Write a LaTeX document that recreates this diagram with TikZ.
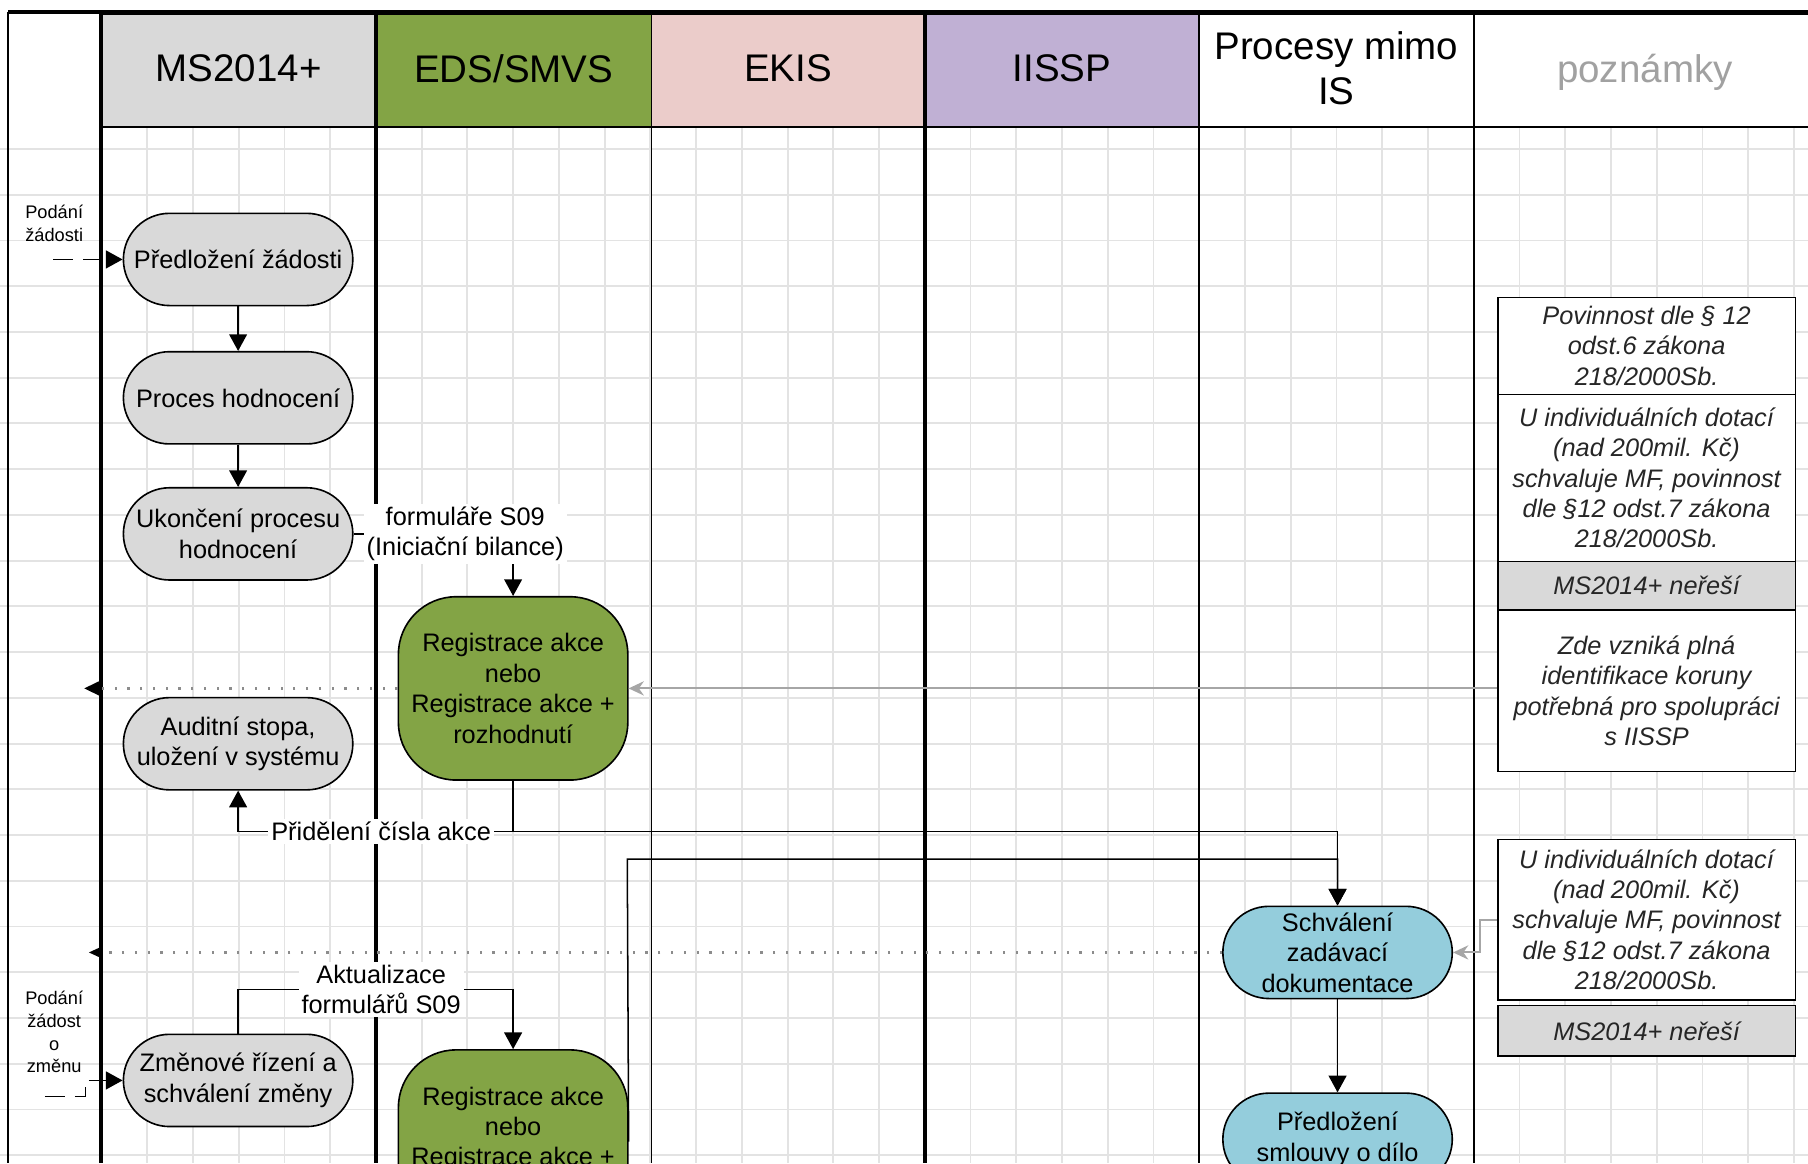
\documentclass[tikz,border=0pt]{standalone}
\usepackage{fontspec}
\setmainfont{Liberation Sans}
\usepackage{xcolor}
\usepackage{tikz}
\usetikzlibrary{arrows.meta}

\definecolor{sedaC}{HTML}{D9D9D9}
\definecolor{zelenaC}{HTML}{83A445}
\definecolor{ruzovaC}{HTML}{EBCCCA}
\definecolor{fialovaC}{HTML}{C0B0D4}
\definecolor{modraC}{HTML}{94CDDC}
\definecolor{mrizka}{HTML}{E3E3E3}
\definecolor{sedaS}{HTML}{A6A6A6}

\begin{document}
\begin{tikzpicture}[x=0.02cm,y=-0.02cm,
        mriz/.style={draw=mrizka,line width=0.9pt},
        hlava/.style={draw,line width=0.7pt,minimum width=4.76cm,minimum height=1.96cm,inner sep=0pt,text depth=0.2em,align=center,font=\fontsize{19}{22}\selectfont},
        proces/.style={draw,line width=0.8pt,fill=sedaC,rounded corners=0.8cm,minimum width=3.98cm,minimum height=1.6cm,inner sep=0pt,align=center,font=\fontsize{12.5}{15}\selectfont},
        registrace/.style={proces,fill=zelenaC,rounded corners=1cm,minimum height=3.18cm},
        mimo/.style={proces,fill=modraC},
        pozn/.style={draw,line width=0.8pt,fill=white,minimum width=5.16cm,inner sep=0pt,align=center,text=black!85,font=\fontsize{12.5}{15}\selectfont\itshape},
        stitek/.style={fill=white,inner sep=1.5pt,align=center,font=\fontsize{12.5}{15}\selectfont},
        maly/.style={align=center,inner sep=0pt,font=\fontsize{9}{11.3}\selectfont},
        tok/.style={line width=0.75pt,-{Triangle[width=8.8pt,length=8.2pt]}},
        vstup/.style={tok,dash pattern=on 9.7pt off 5.1pt},
        sipka/.style={draw=sedaS,line width=1pt,-{Stealth[width=7pt,length=7.5pt]}},
        tecky/.style={draw=black!45,line width=1.1pt,dash pattern=on 1.1pt off 5.2pt}
    ]
                \useasboundingbox (0,0) rectangle (1568,1009);
                \clip (0,0) rectangle (1568,1009);
                \fill [white] (0,0) rectangle (1568,1009);
                \foreach \j in {1,...,23}
                    \draw [mriz] (0,{89.5+39.67*\j}) -- (1568,{89.5+39.67*\j});
                \foreach \i in {1,...,37}
                    \draw [mriz] ({88+39.67*\i},110) -- ({88+39.67*\i},1009);

                \node [hlava,fill=sedaC] (hMS) at (207,61) {MS2014+};
                \node [hlava,fill=zelenaC,minimum width=4.78cm] (hEDS) at (445.5,61) {EDS/SMVS};
                \node [hlava,fill=ruzovaC,minimum width=4.74cm] (hEKIS) at (683.5,61) {EKIS};
                \node [hlava,fill=fialovaC] (hIISSP) at (921,61) {IISSP};
                \node [hlava,fill=white] (hMimo) at (1159,61) {Procesy mimo\\IS};
                \node [hlava,fill=white,minimum width=5.94cm,text=black!37] (hPozn) at (1426.5,61) {poznámky};

                \draw [line width=1.1pt] (7,10) -- (7,1009);
                \draw [line width=2pt] (88,10) -- (88,1009);
                \draw [line width=2pt] (326,10) -- (326,1009);
                \draw [line width=0.9pt] (565,10) -- (565,1009);
                \draw [line width=2pt] (802,10) -- (802,1009);
                \draw [line width=0.9pt] (1040,10) -- (1040,1009);
                \draw [line width=0.9pt] (1278,10) -- (1278,1009);
                \draw [line width=2.2pt] (7,10.5) -- (1568,10.5);

                \node [maly] (tPodani1) at (47,194) {Podání\\žádosti};
                \node [maly] (tPodani2) at (47,895) {Podání\\žádost\\o\\změnu};
                \coordinate (vst1) at (46,225);
                \coordinate (vst2) at (39,951);
                \coordinate (konec1) at (73,597);
                \coordinate (konec2) at (77,826);
                \coordinate (spoj) at (544,745);

                \node [proces] (pred) at (206.5,225) {Předložení žádosti};
                \node [proces] (hodn) at (206.5,345) {Proces hodnocení};
                \node [proces] (ukon) at (206.5,463) {Ukončení procesu\\hodnocení};
                \node [proces] (audit) at (206.5,645) {Auditní stopa,\\uložení v systému};
                \node [proces] (zmena) at (206.5,937) {Změnové řízení a\\schválení změny};
                \node [registrace] (reg) at (445,597) {Registrace akce\\nebo\\Registrace akce +\\rozhodnutí};
                \node [registrace] (reg2) at (445,990) {Registrace akce\\nebo\\Registrace akce +\\rozhodnutí};
                \node [mimo] (schv) at (1160,826) {Schválení\\zadávací\\dokumentace};
                \node [mimo] (smlouva) at (1160,988) {Předložení\\smlouvy o dílo};

                \node [pozn,minimum height=1.68cm] (poznA) at (1428,300) {Povinnost dle § 12\\odst.6 zákona\\218/2000Sb.};
                \node [pozn,minimum height=2.9cm] (poznB) at (1428,414.5) {U individuálních dotací\\(nad 200mil. Kč)\\schvaluje MF, povinnost\\dle §12 odst.7 zákona\\218/2000Sb.};
                \node [pozn,fill=sedaC,minimum height=0.84cm] (poznC) at (1428,508) {MS2014+ neřeší};
                \node [pozn,minimum height=2.8cm] (poznD) at (1428,599) {Zde vzniká plná\\identifikace koruny\\potřebná pro spolupráci\\s IISSP};
                \node [pozn,minimum height=2.78cm] (poznE) at (1428,797.5) {U individuálních dotací\\(nad 200mil. Kč)\\schvaluje MF, povinnost\\dle §12 odst.7 zákona\\218/2000Sb.};
                \node [pozn,fill=sedaC,minimum height=0.88cm] (poznF) at (1428,894) {MS2014+ neřeší};

                \draw [tecky,-{Triangle[width=7.4pt,length=8pt,color=black]}] (reg.west) -- (konec1);
                \draw [tecky,-{Triangle[width=5.7pt,length=6.6pt,color=black]}] (schv.west) -- (konec2);
                \draw [sipka] (poznD.west |- reg.east) -- (reg.east);
                \draw [sipka] (poznE.west) -- ++(-15,0) |- (schv.east);

                \draw [vstup] (vst1) -- (pred.west);
                \draw [vstup] (vst2) -- ++(35,0) |- (zmena.west);
                \draw [tok] (pred) -- (hodn);
                \draw [tok] (hodn) -- (ukon);
                \draw [tok] (ukon.east) -- node [stitek,pos=0.7] (lForm) {formuláře S09\\(Iniciační bilance)} (reg.north |- ukon.east) -- (reg.north);
                \draw [tok] (reg.south) -- ++(0,44) -| (schv.north);
                \draw [tok] (reg2.east) -- (spoj) -| (schv.north);
                \draw [tok] (reg.south) -- ++(0,44) -| node [stitek,pos=0.24] (lCislo) {Přidělení čísla akce} (audit.south);
                \draw [tok] (zmena.north) -- ++(0,-38) -| node [stitek,pos=0.26] (lAkt) {Aktualizace\\formulářů S09} (reg2.north);
                \draw [tok] (schv) -- (smlouva);
\end{tikzpicture}
\end{document}
